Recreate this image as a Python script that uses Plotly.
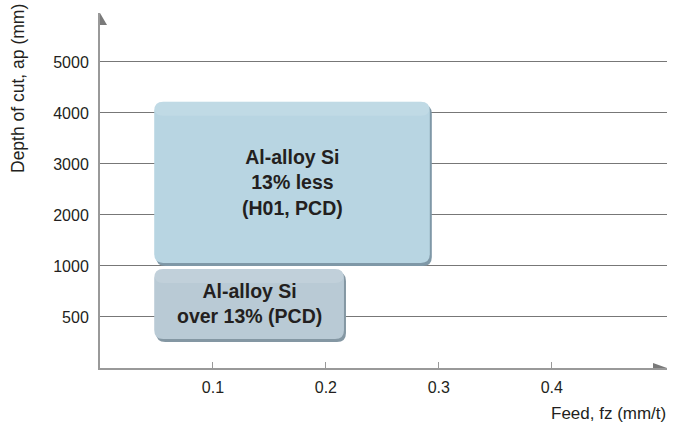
import plotly.graph_objects as go

# ---- data ----
feed_ticks = [0.1, 0.2, 0.3, 0.4]
feed_tick_labels = ["0.1", "0.2", "0.3", "0.4"]
depth_tick_pos = [1, 2, 3, 4, 5, 6]
depth_tick_labels = ["500", "1000", "2000", "3000", "4000", "5000"]

region_labels = ["Al-alloy Si<br>13% less<br>(H01, PCD)", "Al-alloy Si<br>over 13% (PCD)"]
region_feed_min = [0.048, 0.048]
region_feed_max = [0.292, 0.216]
region_depth_min = [2.06, 0.57]   # positions on the depth axis scale
region_depth_max = [5.22, 1.94]
region_fill = ["#b8d5e2", "#b9cad5"]
region_shadow = ["#7f98a7", "#8497a3"]

FONT = "Liberation Sans, Arial, sans-serif"
X_RANGE = [0, 0.502]
Y_RANGE = [0, 6.96]
W, H = 682, 426
ML, MR, MT, MB = 100, 15, 13, 58
PW, PH = W - ML - MR, H - MT - MB
dx_px = (X_RANGE[1] - X_RANGE[0]) / PW
dy_px = (Y_RANGE[1] - Y_RANGE[0]) / PH


def rounded(x0, x1, y0, y1, r=9):
    rx, ry = r * dx_px, r * dy_px
    return (f"M{x0+rx},{y0} L{x1-rx},{y0} Q{x1},{y0} {x1},{y0+ry} "
            f"L{x1},{y1-ry} Q{x1},{y1} {x1-rx},{y1} "
            f"L{x0+rx},{y1} Q{x0},{y1} {x0},{y1-ry} "
            f"L{x0},{y0+ry} Q{x0},{y0} {x0+rx},{y0} Z")


fig = go.Figure()
fig.add_trace(go.Scatter(x=[None], y=[None], showlegend=False, hoverinfo="skip"))

shapes = []
for i in range(len(region_labels)):
    x0, x1 = region_feed_min[i], region_feed_max[i]
    y0, y1 = region_depth_min[i], region_depth_max[i]
    shapes.append(dict(type="path", xref="x", yref="y", layer="above",
                       path=rounded(x0 + 2 * dx_px, x1 + 2 * dx_px, y0 - 3 * dy_px, y1 - 3 * dy_px),
                       fillcolor=region_shadow[i], line=dict(width=0)))
    shapes.append(dict(type="path", xref="x", yref="y", layer="above",
                       path=rounded(x0, x1, y0, y1),
                       fillcolor=region_fill[i], line=dict(width=0)))
    shapes.append(dict(type="path", xref="x", yref="y", layer="above",
                       path=rounded(x0, x1, y1 - 14 * dy_px, y1),
                       fillcolor="rgba(255,255,255,0.12)", line=dict(width=0)))
    fig.add_annotation(x=(x0 + x1) / 2, y=(y0 + y1) / 2, xref="x", yref="y",
                       text=f"<b>{region_labels[i]}</b>", showarrow=False,
                       font=dict(size=19.5, color="#231f20", family=FONT),
                       align="center", xanchor="center", yanchor="middle")

shapes.append(dict(type="path", xref="x domain", yref="y domain", layer="above",
                   path=f"M0,1 L0,{1-12/PH} L{7/PW},{1-12/PH} Z",
                   fillcolor="#7a7a7a", line=dict(width=0)))
shapes.append(dict(type="path", xref="x domain", yref="y domain", layer="above",
                   path=f"M1,0 L{1-14/PW},0 L{1-14/PW},{5/PH} Z",
                   fillcolor="#7a7a7a", line=dict(width=0)))

fig.update_layout(
    width=W, height=H,
    margin=dict(l=ML, r=MR, t=MT, b=MB, autoexpand=False),
    paper_bgcolor="white", plot_bgcolor="white",
    showlegend=False,
    shapes=shapes,
    font=dict(family=FONT, color="#231f20", size=16),
    xaxis=dict(range=X_RANGE, tickvals=feed_ticks, ticktext=feed_tick_labels,
               showgrid=False, zeroline=False, showline=True, linecolor="#999999", linewidth=2,
               ticks="inside", ticklen=6, tickcolor="#999999", tickwidth=1,
               tickfont=dict(size=16, color="#231f20"), ticklabelstandoff=4, fixedrange=True),
    yaxis=dict(range=Y_RANGE, tickvals=depth_tick_pos, ticktext=depth_tick_labels,
               showgrid=True, gridcolor="#777777", gridwidth=1, zeroline=False,
               showline=True, linecolor="#999999", linewidth=2, ticks="",
               tickfont=dict(size=16, color="#231f20"), ticklabelstandoff=6, fixedrange=True),
)

fig.add_annotation(text="Depth of cut, ap (mm)", xref="paper", yref="paper",
                   x=0, xshift=-82, y=(PH - 89 + MT) / PH, textangle=-90,
                   showarrow=False, xanchor="center", yanchor="middle",
                   font=dict(size=17.5, color="#231f20"))
fig.add_annotation(text="Feed, fz (mm/t)", xref="paper", yref="paper",
                   x=1, xshift=1, y=-(413 - (H - MB)) / PH, xanchor="right", yanchor="middle",
                   showarrow=False, font=dict(size=17, color="#231f20"))

fig.write_html("out.html", config={"displayModeBar": False},
               post_script="document.body.style.margin='0';document.body.style.overflow='hidden';")
